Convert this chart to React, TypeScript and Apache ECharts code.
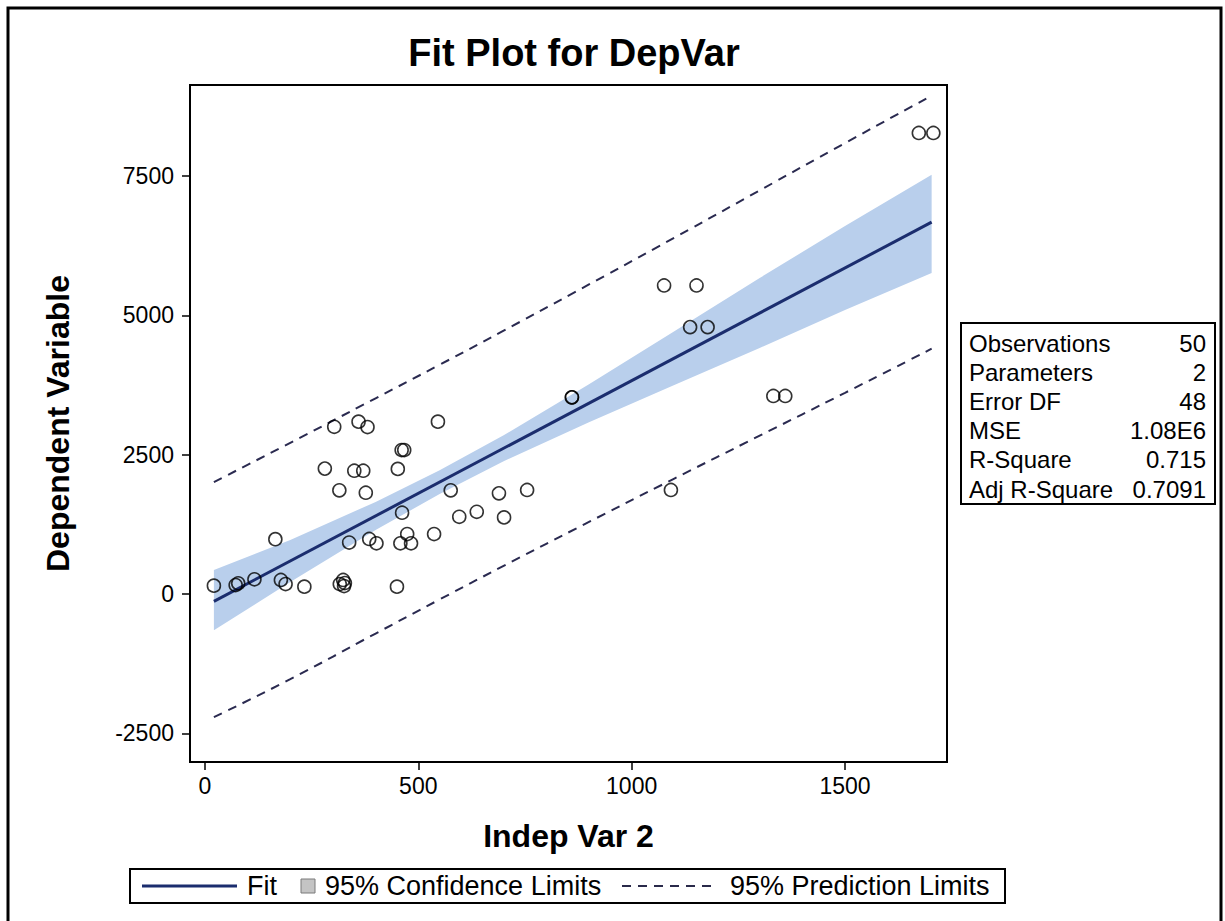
import React, { useEffect, useRef } from "react";
import * as echarts from "echarts";

// Observations (Indep Var 2, Dependent Variable)
const obsX = [21, 72, 78, 116, 165, 178, 189, 233, 303, 281, 315, 338, 324, 328, 326, 316, 360, 381, 350, 371, 377, 385, 402, 450, 452, 461, 467, 462, 474, 458, 483, 537, 546, 576, 596, 637, 689, 755, 701, 860, 860, 1076, 1152, 1137, 1178, 1332, 1360, 1092, 1673, 1707];
const obsY = [149, 161, 192, 264, 983, 251, 179, 131, 3000, 2249, 1860, 923, 251, 197, 143, 179, 3091, 2995, 2211, 2211, 1817, 987, 910, 131, 2244, 2583, 2583, 1458, 1076, 910, 910, 1076, 3091, 1860, 1385, 1475, 1806, 1866, 1374, 3528, 3528, 5535, 5535, 4788, 4788, 3552, 3552, 1866, 8270, 8270];

// Fit line and limits read at these x positions
const fitX = [21, 1703];
const fitY = [-132, 6670];
const limX = [21, 200, 400, 550, 700, 900, 1100, 1300, 1500, 1703];
const clUpper = [430, 969, 1652, 2222, 2847, 3764, 4715, 5668, 6602, 7520];
const clLower = [-650, 215, 1150, 1792, 2381, 3082, 3747, 4412, 5096, 5760];
const plUpper = [2008, 2712, 3511, 4112, 4724, 5553, 6391, 7240, 8089, 8940];
const plLower = [-2210, -1528, -709, -98, 504, 1293, 2071, 2840, 3609, 4400];

const xTicks = [0, 500, 1000, 1500];
const yTicks = [-2500, 0, 2500, 5000, 7500];

const statLabels = ["Observations", "Parameters", "Error DF", "MSE", "R-Square", "Adj R-Square"];
const statValues = ["50", "2", "48", "1.08E6", "0.715", "0.7091"];

const FONT = "'Liberation Sans', Arial, Helvetica, sans-serif";

export default function App() {
  const ref = useRef<HTMLDivElement>(null);
  useEffect(() => {
    if (!ref.current) return;
    const chart = echarts.init(ref.current, undefined, { renderer: "svg" });

    const bandData = limX.map((x, i) => [x, clLower[i], clUpper[i]]);
    const statTop = 329;
    const rowH = 29.2;
    const statGraphics: any[] = [
      { type: "rect", shape: { x: 961, y: 323, width: 254, height: 181 }, style: { fill: "#fff", stroke: "#000", lineWidth: 2 }, z: 100 },
    ];
    statLabels.forEach((s, i) => {
      statGraphics.push({ type: "text", x: 969, y: statTop + i * rowH + 14, z: 101, style: { text: s, font: `24px ${FONT}`, fill: "#000", textAlign: "left", textVerticalAlign: "middle" } });
      statGraphics.push({ type: "text", x: 1206, y: statTop + i * rowH + 14, z: 101, style: { text: statValues[i], font: `24px ${FONT}`, fill: "#000", textAlign: "right", textVerticalAlign: "middle" } });
    });

    const legendY = 886;
    const LF = `27px ${FONT}`;
    const legendGraphics: any[] = [
      { type: "rect", shape: { x: 130, y: 869, width: 875, height: 34 }, style: { fill: "#fff", stroke: "#000", lineWidth: 2 } },
      { type: "line", shape: { x1: 142, y1: legendY, x2: 237, y2: legendY }, style: { stroke: "#1b2d6e", lineWidth: 3 } },
      { type: "text", x: 247, y: legendY, style: { text: "Fit", font: LF, fill: "#000", textVerticalAlign: "middle" } },
      { type: "rect", shape: { x: 301, y: 879, width: 14, height: 14 }, style: { fill: "#c4c4c4", stroke: "#7a7a7a", lineWidth: 1 } },
      { type: "text", x: 325, y: legendY, style: { text: "95% Confidence Limits", font: LF, fill: "#000", textVerticalAlign: "middle" } },
      { type: "line", shape: { x1: 622, y1: legendY, x2: 714, y2: legendY }, style: { stroke: "#2a2a4a", lineWidth: 2, lineDash: [9, 7] } },
      { type: "text", x: 730, y: legendY, style: { text: "95% Prediction Limits", font: LF, fill: "#000", textVerticalAlign: "middle" } },
    ];

    chart.setOption({
      animation: false,
      backgroundColor: "#fff",
      textStyle: { fontFamily: FONT },
      title: {
        text: "Fit Plot for DepVar",
        left: 569,
        top: 29,
        textAlign: "center",
        textStyle: { fontFamily: FONT, fontSize: 38, fontWeight: "bold", color: "#000" },
      },
      grid: { left: 190, top: 85, width: 757, height: 677, show: true, borderColor: "#000", borderWidth: 2, backgroundColor: "transparent" },
      xAxis: {
        type: "value",
        min: -35,
        max: 1739,
        name: "Indep Var 2",
        nameLocation: "middle",
        nameGap: 58,
        nameTextStyle: { fontFamily: FONT, fontSize: 32, fontWeight: "bold", color: "#000" },
        axisLine: { show: true, onZero: false, lineStyle: { color: "#000", width: 2 } },
        axisTick: { show: true, length: 8, lineStyle: { color: "#000", width: 1.5 }, customValues: xTicks },
        axisLabel: { fontFamily: FONT, fontSize: 23, color: "#000", margin: 12, customValues: xTicks, formatter: (v: number) => String(v) },
        splitLine: { show: false },
      },
      yAxis: {
        type: "value",
        min: -3014,
        max: 9131,
        name: "Dependent Variable",
        nameLocation: "middle",
        nameGap: 116,
        nameTextStyle: { fontFamily: FONT, fontSize: 32, fontWeight: "bold", color: "#000" },
        axisLine: { show: true, onZero: false, lineStyle: { color: "#000", width: 2 } },
        axisTick: { show: true, length: 8, lineStyle: { color: "#000", width: 1.5 }, customValues: yTicks },
        axisLabel: { fontFamily: FONT, fontSize: 23, color: "#000", margin: 16, customValues: yTicks, formatter: (v: number) => String(v) },
        splitLine: { show: false },
      },
      series: [
        {
          type: "custom",
          name: "95% Confidence Limits",
          data: bandData,
          clip: true,
          z: 1,
          renderItem: (params: any, api: any) => {
            if (params.dataIndex !== 0) return null;
            const pts: number[][] = [];
            for (let i = 0; i < limX.length; i++) pts.push(api.coord([limX[i], clUpper[i]]));
            for (let i = limX.length - 1; i >= 0; i--) pts.push(api.coord([limX[i], clLower[i]]));
            return { type: "polygon", shape: { points: pts }, style: { fill: "#b9cfec", stroke: "none" } };
          },
        },
        {
          type: "line",
          name: "95% Prediction Limits",
          data: limX.map((x, i) => [x, plUpper[i]]),
          smooth: true,
          showSymbol: false,
          symbol: "none",
          z: 3,
          lineStyle: { color: "#2a2a50", width: 2, type: [9, 7] },
        },
        {
          type: "line",
          name: "95% Prediction Limits (lower)",
          data: limX.map((x, i) => [x, plLower[i]]),
          smooth: true,
          showSymbol: false,
          symbol: "none",
          z: 3,
          lineStyle: { color: "#2a2a50", width: 2, type: [9, 7] },
        },
        {
          type: "line",
          name: "Fit",
          data: fitX.map((x, i) => [x, fitY[i]]),
          showSymbol: false,
          symbol: "none",
          z: 4,
          lineStyle: { color: "#1b2d6e", width: 3 },
        },
        {
          type: "scatter",
          name: "Observations",
          data: obsX.map((x, i) => [x, obsY[i]]),
          symbol: "circle",
          symbolSize: 13,
          z: 5,
          itemStyle: { color: "rgba(0,0,0,0)", borderColor: "#000", borderWidth: 1.6 },
        },
      ],
      graphic: [
        { type: "rect", shape: { x: 8, y: 8, width: 1213, height: 940 }, style: { fill: "none", stroke: "#000", lineWidth: 3 }, z: 200 },
        ...statGraphics,
        ...legendGraphics,
      ],
    });
    return () => chart.dispose();
  }, []);
  return <div ref={ref} style={{ position: "absolute", left: 0, top: 0, width: 1225, height: 921 }} />;
}
